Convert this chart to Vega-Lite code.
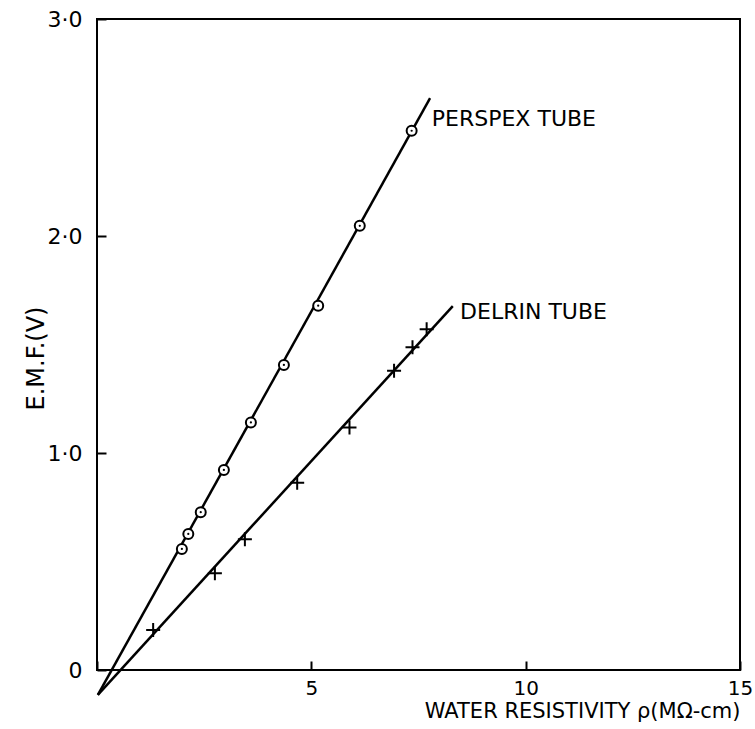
{
  "$schema": "https://vega.github.io/schema/vega-lite/v6.json",
  "width": 643,
  "height": 651,
  "autosize": {"type": "none"},
  "padding": {"left": 97, "top": 19, "right": 15, "bottom": 59},
  "background": "white",
  "config": {
    "view": {"stroke": "black", "strokeWidth": 2},
    "font": "DejaVu Sans"
  },
  "datasets": {
    "lines": [
      {"series": "Perspex tube", "x": 0.02, "y": -0.115},
      {"series": "Perspex tube", "x": 7.77, "y": 2.635},
      {"series": "Delrin tube", "x": 0.02, "y": -0.115},
      {"series": "Delrin tube", "x": 8.30, "y": 1.677}
    ],
    "perspex": [
      {"x": 1.98, "y": 0.558},
      {"x": 2.13, "y": 0.627},
      {"x": 2.42, "y": 0.727},
      {"x": 2.96, "y": 0.922},
      {"x": 3.59, "y": 1.141},
      {"x": 4.36, "y": 1.406},
      {"x": 5.16, "y": 1.679},
      {"x": 6.13, "y": 2.047},
      {"x": 7.34, "y": 2.485}
    ],
    "delrin": [
      {"x": 1.31, "y": 0.184},
      {"x": 2.75, "y": 0.446},
      {"x": 3.45, "y": 0.602},
      {"x": 4.67, "y": 0.863},
      {"x": 5.89, "y": 1.118},
      {"x": 6.93, "y": 1.379},
      {"x": 7.36, "y": 1.487},
      {"x": 7.69, "y": 1.570}
    ],
    "labels": [
      {"label": "PERSPEX TUBE", "x": 7.81, "y": 2.54},
      {"label": "DELRIN TUBE", "x": 8.47, "y": 1.65}
    ]
  },
  "encoding": {
    "x": {
      "field": "x",
      "type": "quantitative",
      "scale": {"domain": [0, 15], "nice": false, "zero": false},
      "axis": {
        "values": [0, 5, 10, 15],
        "labelExpr": "datum.value == 0 ? '' : datum.label",
        "grid": false,
        "domain": false,
        "tickColor": "black",
        "tickWidth": 2,
        "tickSize": -9,
        "labelPadding": 17,
        "labelFontSize": 20,
        "labelColor": "black",
        "labelFlush": false,
        "title": "WATER RESISTIVITY  ρ(MΩ-cm)",
        "titleFontSize": 21,
        "titleFontWeight": "normal",
        "titleColor": "black",
        "titleAnchor": "end",
        "titleAlign": "right",
        "titleX": 643,
        "titleY": 47,
        "titleBaseline": "alphabetic"
      }
    },
    "y": {
      "field": "y",
      "type": "quantitative",
      "scale": {"domain": [0, 3], "nice": false, "zero": false},
      "axis": {
        "values": [0, 1, 2, 3],
        "labelExpr": "datum.value == 0 ? '0' : datum.value + '·0'",
        "grid": false,
        "domain": false,
        "tickColor": "black",
        "tickWidth": 2,
        "tickSize": -9,
        "labelPadding": 24,
        "labelFontSize": 22,
        "labelColor": "black",
        "labelFlush": false,
        "title": "E.M.F.(V)",
        "titleFontSize": 24,
        "titleFontWeight": "normal",
        "titleColor": "black",
        "titleAngle": -90,
        "titleAlign": "center",
        "titleBaseline": "middle",
        "titleX": -61,
        "titleY": 339
      }
    }
  },
  "layer": [
    {
      "data": {"name": "lines"},
      "mark": {"type": "line", "color": "black", "strokeWidth": 2.5, "clip": false},
      "encoding": {"detail": {"field": "series", "type": "nominal"}}
    },
    {
      "data": {"name": "perspex"},
      "mark": {"type": "point", "shape": "circle", "filled": false, "fill": "white", "fillOpacity": 1, "stroke": "black", "strokeWidth": 2, "size": 100, "opacity": 1}
    },
    {
      "data": {"name": "perspex"},
      "mark": {"type": "point", "shape": "circle", "filled": true, "color": "black", "size": 5, "opacity": 1}
    },
    {
      "data": {"name": "delrin"},
      "mark": {"type": "point", "shape": "M-1,0L1,0M0,-1L0,1", "filled": false, "stroke": "black", "strokeWidth": 2, "size": 196, "opacity": 1}
    },
    {
      "data": {"name": "labels"},
      "mark": {"type": "text", "align": "left", "baseline": "middle", "fontSize": 22, "color": "black"},
      "encoding": {"text": {"field": "label", "type": "nominal"}}
    }
  ]
}
